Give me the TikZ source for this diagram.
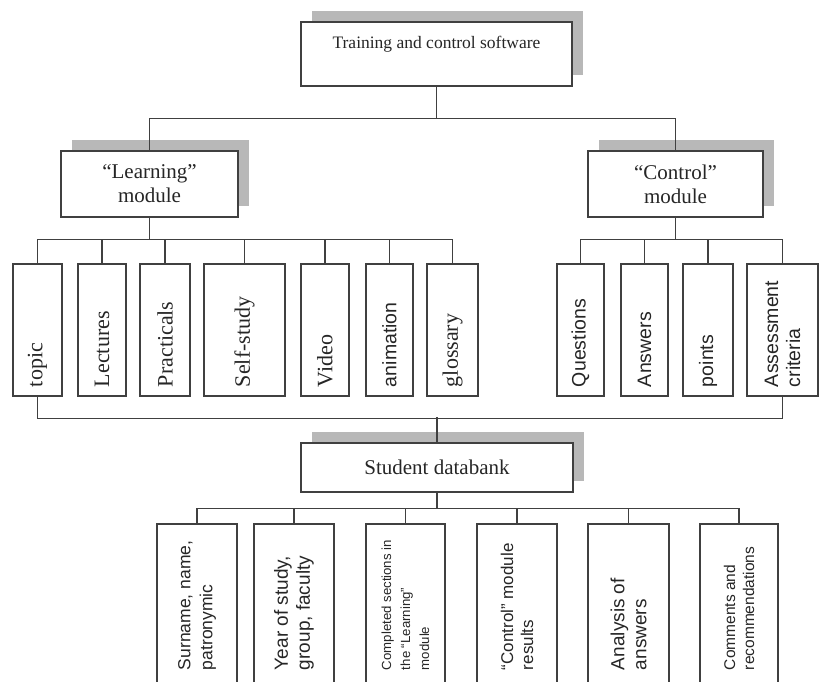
\documentclass[tikz,border=0pt]{standalone}
\usepackage{fontspec}
\setmainfont{Liberation Serif}
\setsansfont{Liberation Sans}
\usepackage{graphicx}
\usetikzlibrary{shadows}

\tikzset{
  block/.style={draw=black!75, line width=1.4pt, fill=white, text=black!85, align=center, inner sep=0pt,
    font=\fontsize{21}{24}\selectfont,
    general shadow={fill=black!28, draw=none, shadow xshift=11pt, shadow yshift=11pt}},
  leaf/.style={draw=black!75, line width=1.4pt, fill=white, text=black!85, inner xsep=0pt, inner ysep=9pt, minimum height=132pt},
  vserif/.style={leaf, font=\fontsize{22}{25}\selectfont},
  vsans/.style={leaf, font=\sffamily\fontsize{19.5}{22}\selectfont},
  record/.style={draw=black!75, line width=1.4pt, fill=white, text=black!85, inner xsep=0pt, inner ysep=14pt, minimum height=160pt},
  link/.style={draw=black!75, line width=1.5pt}
}
% text turned to read upwards, starting at the foot of its box
\newcommand{\vtext}[2]{\rotatebox{90}{\parbox{#1}{\raggedright #2}}}

\begin{document}
\begin{tikzpicture}[x=1pt, y=-1pt]
  \useasboundingbox (0,0) rectangle (819,682);
  \clip (0,0) rectangle (819,682);

  % top level
  \node[block, minimum width=271pt, minimum height=64pt, font=\fontsize{17.5}{24}\selectfont] (soft) at (436.5,54) {Training and control software\\ \mbox{}};

  % modules
  \node[block, minimum width=177pt, minimum height=66pt] (learn) at (149.5,184) {“Learning”\\module};
  \node[block, minimum width=175pt, minimum height=66pt] (ctrl) at (675.5,184) {“Control”\\module};

  % learning module items
  \node[vserif, minimum width=49pt] (topic) at (37.5,330) {\vtext{114pt}{topic}};
  \node[vserif, minimum width=48pt] (lect) at (102,330) {\vtext{114pt}{Lectures}};
  \node[vserif, minimum width=50pt] (pract) at (165,330) {\vtext{114pt}{Practicals}};
  \node[vserif, minimum width=81pt] (self) at (244.5,330) {\vtext{114pt}{Self-study}};
  \node[vserif, minimum width=48pt] (video) at (325,330) {\vtext{114pt}{Video}};
  \node[vsans, minimum width=47pt] (anim) at (389.5,330) {\vtext{114pt}{animation}};
  \node[vserif, minimum width=51pt] (gloss) at (452.5,330) {\vtext{114pt}{glossary}};

  % control module items
  \node[vsans, minimum width=47pt] (quest) at (580.5,330) {\vtext{114pt}{Questions}};
  \node[vsans, minimum width=47pt] (answ) at (644.5,330) {\vtext{114pt}{Answers}};
  \node[vsans, minimum width=50pt] (points) at (708,330) {\vtext{114pt}{points}};
  \node[vsans, minimum width=71pt] (assess) at (782.5,330) {\vtext{114pt}{Assessment\\criteria}};

  % databank
  \node[block, minimum width=272pt, minimum height=49pt] (bank) at (437,467.5) {Student databank};

  % databank records
  \node[record, minimum width=80pt, font=\sffamily\fontsize{17.5}{22}\selectfont] (name) at (197,604) {\vtext{132pt}{Surname, name,\\patronymic}};
  \node[record, minimum width=80pt, font=\sffamily\fontsize{19}{22}\selectfont] (year) at (294,604) {\vtext{132pt}{Year of study,\\group, faculty}};
  \node[record, minimum width=79pt, font=\sffamily\fontsize{13.2}{19}\selectfont] (done) at (405.5,604) {\vtext{132pt}{Completed sections in\\the “Learning”\\module}};
  \node[record, minimum width=80pt, font=\sffamily\fontsize{17}{20}\selectfont] (res) at (517,604) {\vtext{132pt}{“Control” module\\results}};
  \node[record, minimum width=81pt, font=\sffamily\fontsize{19}{22}\selectfont] (anal) at (628.5,604) {\vtext{132pt}{Analysis of\\answers}};
  \node[record, minimum width=78pt, font=\sffamily\fontsize{15.5}{19}\selectfont] (comm) at (739,604) {\vtext{132pt}{Comments and\\recommendations}};

  % connectors
  \draw[link] (soft.south) -- ++(0,32) -| (learn.north);
  \draw[link] (soft.south) -- ++(0,32) -| (ctrl.north);

  \draw[link] (learn.south) -- ++(0,22) -| (topic.north);
  \draw[link] (learn.south) -- ++(0,22) -| (lect.north);
  \draw[link] (learn.south) -- ++(0,22) -| (pract.north);
  \draw[link] (learn.south) -- ++(0,22) -| (self.north);
  \draw[link] (learn.south) -- ++(0,22) -| (video.north);
  \draw[link] (learn.south) -- ++(0,22) -| (anim.north);
  \draw[link] (learn.south) -- ++(0,22) -| (gloss.north);

  \draw[link] (ctrl.south) -- ++(0,22) -| (quest.north);
  \draw[link] (ctrl.south) -- ++(0,22) -| (answ.north);
  \draw[link] (ctrl.south) -- ++(0,22) -| (points.north);
  \draw[link] (ctrl.south) -- ++(0,22) -| (assess.north);

  \draw[link] (topic.south) -- ++(0,22) -| (assess.south);
  \draw[link] (bank.north) -- ++(0,-25);

  \draw[link] (bank.south) -- ++(0,16) -| (name.north);
  \draw[link] (bank.south) -- ++(0,16) -| (year.north);
  \draw[link] (bank.south) -- ++(0,16) -| (done.north);
  \draw[link] (bank.south) -- ++(0,16) -| (res.north);
  \draw[link] (bank.south) -- ++(0,16) -| (anal.north);
  \draw[link] (bank.south) -- ++(0,16) -| (comm.north);
\end{tikzpicture}
\end{document}
